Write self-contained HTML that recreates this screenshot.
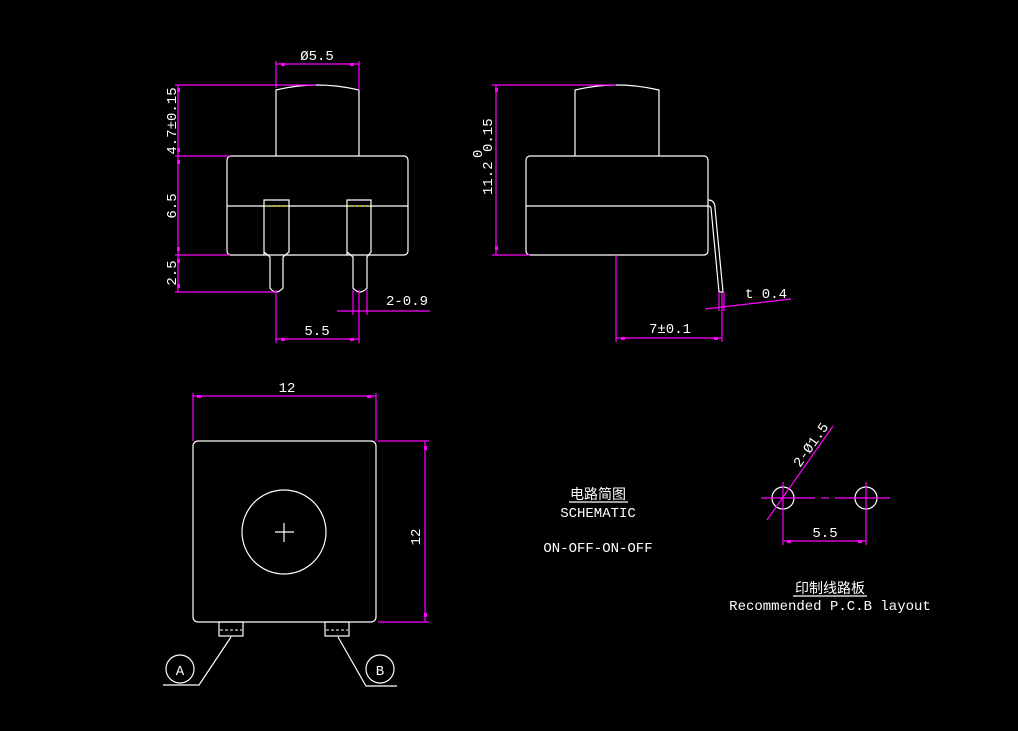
<!DOCTYPE html>
<html><head><meta charset="utf-8"><style>
html,body{margin:0;padding:0;background:#000;}
svg{display:block}
text{font-family:"Liberation Mono","Noto Sans CJK SC",monospace;fill:#fff;font-size:14px}
.w{stroke:#fff;fill:none;stroke-width:1.2}
.m{stroke:#f0f;fill:none;stroke-width:1.2}
.mf{fill:#f0f}
</style></head><body>
<svg width="1018" height="731" viewBox="0 0 1018 731">
<!-- FRONT VIEW -->
<path class="w" d="M276,156 V90 Q317,80 359,90 V156"/>
<rect class="w" x="227" y="156" width="181" height="99" rx="4"/>
<line class="w" x1="227" y1="206" x2="408" y2="206"/>
<path class="w" d="M264,255 V200 H289 V252 L283,257 V288 Q276,296 270,288 V257 L264,252" fill="#000"/>
<path class="w" d="M347,255 V200 H371 V252 L367,257 V288 Q360,296 353,288 V257 L347,252" fill="#000"/>
<line x1="265" y1="206" x2="288" y2="206" stroke="#ff0" stroke-dasharray="3,2"/>
<line x1="348" y1="206" x2="370" y2="206" stroke="#ff0" stroke-dasharray="3,2"/>
<g class="m">
<line x1="178" y1="85" x2="178" y2="292"/>
<line x1="175" y1="85" x2="316" y2="85"/>
<line x1="175" y1="156" x2="230" y2="156"/>
<line x1="175" y1="255" x2="230" y2="255"/>
<line x1="175" y1="292" x2="276" y2="292"/>
<line x1="276" y1="64" x2="359" y2="64"/>
<line x1="276" y1="61" x2="276" y2="88"/>
<line x1="359" y1="61" x2="359" y2="90"/>
<line x1="276" y1="339" x2="359" y2="339"/>
<line x1="276" y1="290" x2="276" y2="343"/>
<line x1="359" y1="290" x2="359" y2="343"/>
<line x1="337" y1="311" x2="430" y2="311"/>
<line x1="353" y1="290" x2="353" y2="315"/>
<line x1="367" y1="290" x2="367" y2="315"/>
</g>
<g class="mf">
<rect x="177" y="88" width="3" height="4"/><rect x="177" y="148" width="3" height="4"/>
<rect x="177" y="160" width="3" height="4"/><rect x="177" y="247" width="3" height="4"/>
<rect x="177" y="259" width="3" height="4"/><rect x="177" y="284" width="3" height="4"/>
<rect x="281" y="63" width="4" height="3"/><rect x="350" y="63" width="4" height="3"/>
<rect x="281" y="338" width="4" height="3"/><rect x="350" y="338" width="4" height="3"/>
</g>
<text x="317" y="60" text-anchor="middle">Ø5.5</text>
<text x="317" y="335" text-anchor="middle">5.5</text>
<text x="386" y="305">2-0.9</text>
<text transform="translate(176,121) rotate(-90)" text-anchor="middle">4.7±0.15</text>
<text transform="translate(176,206) rotate(-90)" text-anchor="middle">6.5</text>
<text transform="translate(176,273) rotate(-90)" text-anchor="middle">2.5</text>

<!-- SIDE VIEW -->
<path class="w" d="M575,156 V90 Q617,80 659,90 V156"/>
<rect class="w" x="526" y="156" width="182" height="99" rx="4"/>
<line class="w" x1="526" y1="206" x2="708" y2="206"/>
<path class="w" d="M708,200 Q715,200 715,208 L723,292 H719 L711,208 Q710,206 708,206"/>
<g class="m">
<line x1="496" y1="85" x2="496" y2="255"/>
<line x1="492" y1="85" x2="616" y2="85"/>
<line x1="492" y1="255" x2="530" y2="255"/>
<line x1="616" y1="255" x2="616" y2="342"/>
<line x1="722" y1="293" x2="722" y2="342"/>
<line x1="616" y1="338" x2="722" y2="338"/>
<line x1="705" y1="309" x2="791" y2="299"/>
<line x1="719" y1="292" x2="719" y2="311"/>
<line x1="724" y1="292" x2="724" y2="311"/>
</g>
<g class="mf">
<rect x="495" y="88" width="3" height="4"/><rect x="495" y="246" width="3" height="4"/>
<rect x="621" y="337" width="4" height="3"/><rect x="714" y="337" width="4" height="3"/>
</g>
<text x="670" y="333" text-anchor="middle">7±0.1</text>
<text x="745" y="298">t 0.4</text>
<text transform="translate(492,195) rotate(-90)">11.2</text>
<text transform="translate(482,158) rotate(-90)" font-size="10">0</text>
<text transform="translate(492,152) rotate(-90)" font-size="10">0.15</text>

<!-- BOTTOM VIEW -->
<rect class="w" x="193" y="441" width="183" height="181" rx="5"/>
<circle class="w" cx="284" cy="532" r="42"/>
<line class="w" x1="275" y1="532" x2="294" y2="532"/>
<line class="w" x1="284" y1="523" x2="284" y2="542"/>
<rect class="w" x="219" y="622" width="24" height="14"/>
<rect class="w" x="325" y="622" width="24" height="14"/>
<line x1="220" y1="630" x2="242" y2="630" stroke="#fff" stroke-dasharray="3,2"/>
<line x1="326" y1="630" x2="348" y2="630" stroke="#fff" stroke-dasharray="3,2"/>
<path class="w" d="M231,637 L199,685 H163"/>
<path class="w" d="M338,637 L366,686 H397"/>
<circle class="w" cx="180" cy="669" r="14"/>
<circle class="w" cx="380" cy="669" r="14"/>
<text x="180" y="675" text-anchor="middle" font-family="Liberation Sans">A</text>
<text x="380" y="675" text-anchor="middle" font-family="Liberation Sans">B</text>
<g class="m">
<line x1="193" y1="396" x2="376" y2="396"/>
<line x1="193" y1="393" x2="193" y2="441"/>
<line x1="376" y1="393" x2="376" y2="441"/>
<line x1="425" y1="441" x2="425" y2="622"/>
<line x1="378" y1="441" x2="429" y2="441"/>
<line x1="378" y1="622" x2="429" y2="622"/>
</g>
<g class="mf">
<rect x="197" y="395" width="4" height="3"/><rect x="367" y="395" width="4" height="3"/>
<rect x="424" y="446" width="3" height="4"/><rect x="424" y="613" width="3" height="4"/>
</g>
<text x="287" y="392" text-anchor="middle">12</text>
<text transform="translate(420,537) rotate(-90)" text-anchor="middle">12</text>

<!-- SCHEMATIC -->
<text x="598" y="499" text-anchor="middle" font-size="13">电路简图</text>
<line class="w" x1="569" y1="502" x2="628" y2="502"/>
<text x="598" y="517" text-anchor="middle" font-size="12">SCHEMATIC</text>
<text x="598" y="552" text-anchor="middle" font-size="12">ON-OFF-ON-OFF</text>

<!-- PCB -->
<circle class="w" cx="783" cy="498" r="11"/>
<circle class="w" cx="866" cy="498" r="11"/>
<g class="m">
<line x1="761" y1="498" x2="815" y2="498"/>
<line x1="821" y1="498" x2="829" y2="498"/>
<line x1="835" y1="498" x2="890" y2="498"/>
<line x1="783" y1="482" x2="783" y2="545"/>
<line x1="866" y1="482" x2="866" y2="545"/>
<line x1="783" y1="541" x2="866" y2="541"/>
<line x1="767" y1="520" x2="833" y2="426"/>
</g>
<g class="mf">
<rect x="787" y="540" width="4" height="3"/><rect x="858" y="540" width="4" height="3"/>
</g>
<text x="825" y="537" text-anchor="middle">5.5</text>
<text transform="translate(800,468) rotate(-55)">2-Ø1.5</text>
<text x="830" y="593" text-anchor="middle" font-size="13">印制线路板</text>
<line class="w" x1="793" y1="596" x2="867" y2="596"/>
<text x="830" y="610" text-anchor="middle" font-size="13">Recommended P.C.B layout</text>
</svg>
</body></html>
